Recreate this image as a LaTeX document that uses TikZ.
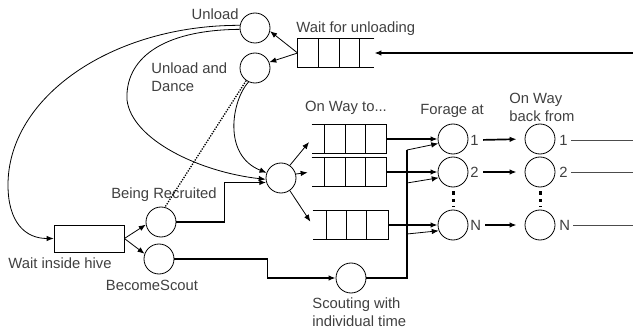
\documentclass[tikz,border=0pt]{standalone}
\usepackage{fontspec}
\setmainfont{Liberation Sans}
\usetikzlibrary{arrows.meta,calc}
\begin{document}
\begin{tikzpicture}[x=1pt,y=-1pt,line width=0.8pt,
  circ/.style={circle,draw,minimum size=30pt,inner sep=0pt},
  lbl/.style={text=black!75,font=\fontsize{14.8}{18}\selectfont,inner sep=0pt},
  qbox/.style={minimum width=74pt,minimum height=28pt,inner sep=0pt},
  arr/.style={-{Latex[length=7pt,width=5.5pt]}},
  thk/.style={line width=1.7pt},
  dotv/.style={line width=3pt,dash pattern=on 3.5pt off 4pt,shorten <=4pt,shorten >=3pt},
  outl/.style={draw=black!70,line width=0.8pt}]
\useasboundingbox (0,0) rectangle (633,329);

% nodes
\node[circ] (u) at (255,28) {};
\node[circ] (ud) at (255,68) {};
\node[qbox,minimum width=76pt] (qw) at (336,53) {};
\coordinate (inw) at (633,53);
\node[circ] (hub) at (281,178) {};
\node[qbox] (q1) at (349,139) {};
\node[qbox] (q2) at (349,172) {};
\node[qbox,minimum width=75pt] (q3) at (350.5,225) {};
\node[circ] (f1) at (453,139) {};
\node[circ] (f2) at (453,172) {};
\node[circ] (fN) at (453,225) {};
\node[circ] (r1) at (540,139) {};
\node[circ] (r2) at (540,172) {};
\node[circ] (rN) at (540,225) {};
\node[lbl,anchor=west] (n1) at (470,140) {1};
\node[lbl,anchor=west] (n2) at (470,172) {2};
\node[lbl,anchor=west] (nN) at (470,225) {N};
\node[lbl,anchor=west] (m1) at (559,140) {1};
\node[lbl,anchor=west] (m2) at (559,172) {2};
\node[lbl,anchor=west] (mN) at (559,225) {N};
\coordinate (e1) at (633,140);
\coordinate (e2) at (633,172);
\coordinate (eN) at (633,225);
\node[draw,minimum width=70pt,minimum height=27pt,inner sep=0pt] (w) at (89,238.5) {};
\node[circ] (br) at (161,222) {};
\node[circ] (bs) at (159,259) {};
\node[circ] (sc) at (351,278) {};
\coordinate (b1) at (407,150);
\coordinate (b2) at (407,183);
\coordinate (b3) at (407,234);

% labels
\node[lbl,anchor=base east] at (239,20) {Unload};
\node[lbl,anchor=base west] at (296,33) {Wait for unloading};
\node[lbl,anchor=west,align=left] at (151,77) {Unload and\\Dance};
\node[lbl,anchor=base] at (346,112) {On Way to...};
\node[lbl,anchor=base] at (452,114) {Forage at};
\node[lbl,anchor=west,align=left] at (509,107) {On Way\\back from};
\node[lbl,anchor=base] at (164,199) {Being Recruited};
\node[lbl,anchor=base] at (60,268) {Wait inside hive};
\node[lbl,anchor=base] at (152,290) {BecomeScout};
\node[lbl,anchor=west,align=left] at (312,312) {Scouting with\\individual time};

% queues
\draw (qw.north east) -- (qw.north west) -- (qw.south west) -- (qw.south east);
\foreach \f in {0.276,0.539,0.803}
  \draw ($(qw.north west)!\f!(qw.north east)$) -- ($(qw.south west)!\f!(qw.south east)$);
\foreach \q in {q1,q2,q3}{
  \draw (\q.north west) -- (\q.north east) -- (\q.south east) -- (\q.south west);
  \foreach \f in {0.176,0.446,0.716}
    \draw ($(\q.north west)!\f!(\q.north east)$) -- ($(\q.south west)!\f!(\q.south east)$);
}

% connectors top
\draw[arr,thk] (inw) -- (qw.east);
\draw[arr] (qw.west) -- (u.-12);
\draw[arr] (qw.west) -- (ud.22);
\draw[arr] (u.170) .. controls (112,25) and (8,97) .. (8,185)
           .. controls (8,222) and (25,238.5) .. (w.west);
\draw[arr] (u.185) .. controls (160,30) and (125,60) .. (127,100)
           .. controls (132,140) and (200,172) .. (hub.185);
\draw[arr] (ud.245) .. controls (232,100) and (222,155) .. (hub.160);
\draw[line width=1.3pt,dash pattern=on 1.3pt off 1.3pt] (ud.235) -- (br.75);

% hive
\draw[arr] (w.east) -- (br.190);
\draw[arr] (w.east) -- (bs.160);
\draw[arr,thk] (br.east) -- ++(48,0) |- (hub.197);
\draw[arr,thk] (bs.east) -- ++(93,0) |- (sc.west);

% hub to queues
\draw[arr,shorten >=4pt] (hub.55) -- (q1.west);
\draw[arr,shorten >=4pt] (hub.15) -- (q2.west);
\draw[arr,shorten >=4pt] (hub.-55) -- (q3.west);

% queues to forage
\draw[arr,thk] (q1.east) -- (f1.west);
\draw[arr,thk] (q2.east) -- (f2.west);
\draw[arr,thk] (q3.east) -- (fN.west);

% scouting bus
\draw[thk] (sc.east) -| (b1);
\draw[arr] (b1) -- (f1.197);
\draw[arr] (b2) -- (f2.202);
\draw[arr] (b3) -- (fN.202);

% forage to back
\draw[arr,thk,shorten <=4pt,shorten >=8pt] (n1.east) -- (r1.west);
\draw[arr,thk,shorten <=4pt,shorten >=8pt] (n2.east) -- (r2.west);
\draw[arr,thk,shorten <=4pt,shorten >=8pt] (nN.east) -- (rN.west);
\draw[outl,shorten <=3pt] (m1.east) -- (e1);
\draw[outl,shorten <=3pt] (m2.east) -- (e2);
\draw[outl,shorten <=3pt] (mN.east) -- (eN);

% dotted verticals
\draw[dotv] (f2.south) -- (fN.north);
\draw[dotv] (r2.south) -- (rN.north);
\end{tikzpicture}
\end{document}
